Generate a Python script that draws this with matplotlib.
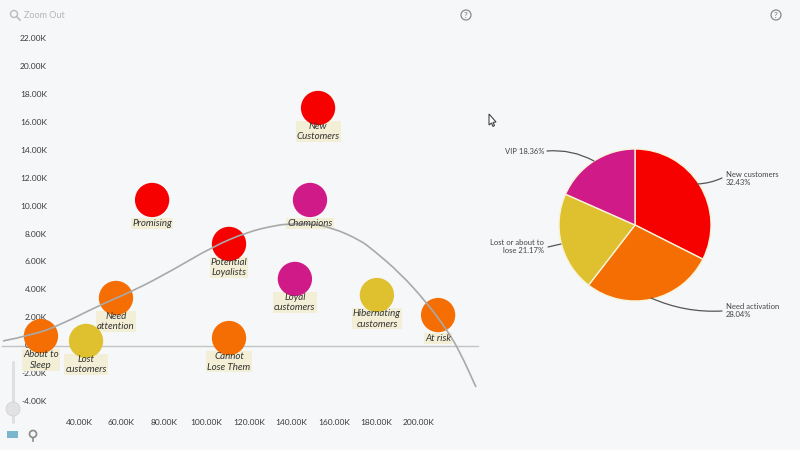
import matplotlib
matplotlib.use('Agg')
import matplotlib.pyplot as plt
from matplotlib.patches import Circle, Polygon, Rectangle, FancyArrowPatch, PathPatch
from matplotlib.path import Path

plt.rcParams['font.family'] = ['Lato', 'DejaVu Sans']

RED = '#f60000'
ORANGE = '#f56e04'
YELLOW = '#dfc02e'
PINK = '#d01a88'
BG = '#f5f7f8'

segments = ['About to\nSleep', 'Lost\ncustomers', 'Need\nattention', 'Promising',
            'Potential\nLoyalists', 'Cannot\nLose Them', 'New\nCustomers', 'Champions',
            'Loyal\ncustomers', 'Hibernating\ncustomers', 'At risk']
recency = [22.1, 43.3, 57.4, 74.4, 110.6, 110.6, 152.5, 148.7, 141.6, 180.2, 209.0]
monetary = [0.71, 0.36, 3.43, 10.43, 7.29, 0.57, 17.0, 10.43, 4.79, 3.64, 2.21]
colors = [ORANGE, YELLOW, ORANGE, RED, RED, ORANGE, RED, PINK, PINK, YELLOW, ORANGE]

trend_x = [4.2, 18.4, 31.1, 49.9, 66.4, 84.2, 102.6, 119.1, 133.2, 139.3, 148.7, 159.5,
           172.2, 178.4, 191.1, 203.8, 213.2, 219.3, 226.8]
trend_y = [0.36, 0.79, 1.5, 2.93, 4.0, 5.43, 7.07, 8.14, 8.64, 8.71, 8.75, 8.43,
           7.57, 6.86, 5.21, 3.07, 1.14, -0.43, -2.93]

xticks = [40, 60, 80, 100, 120, 140, 160, 180, 200]
yticks = [-4, -2, 0, 2, 4, 6, 8, 10, 12, 14, 16, 18, 20, 22]

pie_values = [32.43, 28.04, 21.17, 18.36]
pie_colors = [RED, ORANGE, YELLOW, PINK]

fig = plt.figure(figsize=(8, 4.5), dpi=100, facecolor=BG)

# scatter panel, limits worked out from the tick pixels
ax = fig.add_axes([0, 0, 480 / 800, 1])
ax.set_facecolor('none')
ax.set_xlim(40 - 79 / 2.125, 40 + (480 - 79) / 2.125)
ax.set_ylim(-(450 - 346) / 14, 346 / 14)
for s in ax.spines.values():
    s.set_visible(False)
ax.set_xticks([])
ax.set_yticks([])

ax.plot([ax.get_xlim()[0] + 1, ax.get_xlim()[1] - 1], [0, 0], color='#c4c4c4', lw=1, zorder=1)
ax.scatter(recency, monetary, s=610, c=colors, linewidths=0, zorder=2)

# trend line, quadratic segments so the read points don't show as kinks
verts = [(trend_x[0], trend_y[0])]
codes = [Path.MOVETO]
for i in range(1, len(trend_x) - 1):
    verts.append((trend_x[i], trend_y[i]))
    verts.append(((trend_x[i] + trend_x[i + 1]) / 2, (trend_y[i] + trend_y[i + 1]) / 2))
    codes += [Path.CURVE3, Path.CURVE3]
verts.append((trend_x[-1], trend_y[-1]))
codes.append(Path.LINETO)
ax.add_patch(PathPatch(Path(verts, codes), fc='none', ec='#a9a9a9', lw=1.2, zorder=3))

for x, y, name in zip(recency, monetary, segments):
    # box goes behind the bubble, text on top of everything
    ax.annotate(name, (x, y), xytext=(0, -17), textcoords='offset points', ha='center', va='center',
                fontsize=7, style='italic', color='none', linespacing=1.25, zorder=1.5,
                bbox=dict(boxstyle='square,pad=0.1', fc='#f3efd6', ec='none'))
    ax.annotate(name, (x, y), xytext=(0, -17), textcoords='offset points', ha='center', va='center',
                fontsize=7, style='italic', color='#333333', linespacing=1.25, zorder=4)

for v in yticks:
    ax.text(24.9, v, '%.2fK' % v, fontsize=6, color='#3a3a3a', va='center', ha='right', zorder=1.2)
for v in xticks:
    ax.text(v, -5.43, '%.2fK' % v, fontsize=6, color='#3a3a3a', ha='center', va='center')

# pie, centre 635,225 radius 76 px
pie_ax = fig.add_axes([(635 - 76) / 800, 1 - (225 + 76) / 450, 152 / 800, 152 / 450])
pie_ax.pie(pie_values, colors=pie_colors, startangle=90, counterclock=False, radius=1,
           wedgeprops=dict(edgecolor='#f7f3d8', linewidth=1))
pie_ax.set_xlim(-1, 1)
pie_ax.set_ylim(-1, 1)
for w in pie_ax.patches:
    w.set_clip_on(False)


def px(x, y):
    return x / 800, 1 - y / 450


# leader lines and pie labels
leaders = [(px(697, 184), px(722, 178), 0.1), (px(651, 298), px(722, 311), 0.12),
           (px(561, 244), px(548, 247), 0.0), (px(594, 161), px(547, 151), 0.15)]
for a, b, rad in leaders:
    fig.add_artist(FancyArrowPatch(a, b, transform=fig.transFigure, arrowstyle='-',
                                   connectionstyle='arc3,rad=%s' % rad, color='#555555',
                                   lw=0.9, shrinkA=0, shrinkB=0))

fig.text(*px(726, 178.5), 'New customers\n%.2f%%' % pie_values[0], fontsize=5.5, color='#444444', va='center', ha='left', linespacing=1.25)
fig.text(*px(726, 310.5), 'Need activation\n%.2f%%' % pie_values[1], fontsize=5.5, color='#444444', va='center', ha='left', linespacing=1.25)
fig.text(*px(544, 246.5), 'Lost or about to\nlose %.2f%%' % pie_values[2], fontsize=5.5, color='#444444', va='center', ha='right', linespacing=1.25)
fig.text(*px(544, 151), 'VIP %.2f%%' % pie_values[3], fontsize=5.5, color='#444444', va='center', ha='right')

# toolbar bits
overlay = fig.add_axes([0, 0, 1, 1])
overlay.set_xlim(0, 800)
overlay.set_ylim(450, 0)
overlay.axis('off')
overlay.patch.set_alpha(0)

overlay.add_patch(Circle((14, 14), 3.5, fc='none', ec='#bbbbbb', lw=1))
overlay.plot([17, 20], [17, 20], color='#bbbbbb', lw=1.2)
overlay.text(24, 15, 'Zoom Out', fontsize=6.5, color='#b5b5b5', va='center')

for cx in [466, 776]:
    overlay.add_patch(Circle((cx, 15), 5, fc='none', ec='#8a8a8a', lw=0.9))
    overlay.text(cx, 15, '?', fontsize=6, color='#777777', ha='center', va='center')

overlay.plot([13, 13], [362, 422], color='#e0e0e0', lw=2.2, solid_capstyle='round')
overlay.add_patch(Circle((13, 409), 7, fc='#e2e2e2', ec='#d0d0d0', lw=0.5, zorder=5))
overlay.add_patch(Rectangle((7, 431), 11, 7, fc='#7ab6cc', ec='none'))
overlay.add_patch(Circle((33, 434), 3.5, fc='none', ec='#8a8a8a', lw=1.2))
overlay.plot([33, 33], [438, 441], color='#8a8a8a', lw=1.2)

# mouse pointer
overlay.add_patch(Polygon([(489, 114), (489, 125), (491.5, 123), (493, 126.5), (494.5, 125.5), (493, 122.5), (496, 122)],
                          closed=True, fc='white', ec='#444444', lw=0.8))

fig.savefig('out.png', dpi=100, facecolor=fig.get_facecolor())
